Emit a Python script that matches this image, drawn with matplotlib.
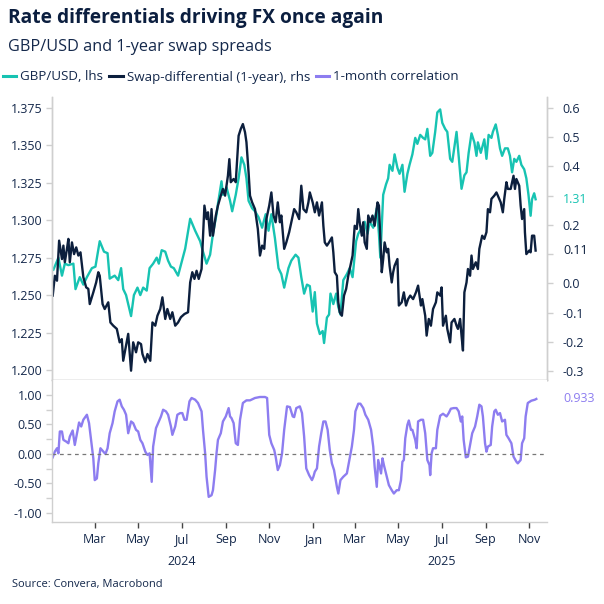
import matplotlib
matplotlib.use("Agg")
import matplotlib.pyplot as plt
import matplotlib.dates as mdates
import matplotlib.transforms as mtransforms
from matplotlib.lines import Line2D
import pandas as pd
import numpy as np

plt.rcParams['font.family'] = ['Open Sans', 'DejaVu Sans']
plt.rcParams['axes.unicode_minus'] = False

# ---------------- data (days since 2024-01-01) ----------------
gbp_day = [2, 9, 14, 18, 23, 30, 33, 39, 44, 49,
           56, 61, 67, 73, 78, 81, 88, 93, 97, 100,
           104, 107, 111, 115, 120, 124, 128, 133, 137, 142,
           147, 150, 154, 159, 163, 167, 171, 177, 182, 187,
           194, 201, 208, 212, 217, 222, 226, 231, 233, 238,
           240, 245, 250, 253, 258, 262, 266, 270, 273, 276,
           281, 285, 290, 295, 300, 304, 308, 313, 318, 322,
           326, 332, 336, 342, 346, 350, 354, 358, 362, 366,
           369, 372, 376, 380, 382, 386, 389, 391, 395, 399,
           402, 405, 409, 414, 418, 422, 427, 430, 435, 439,
           443, 446, 451, 456, 459, 461, 465, 469, 472, 474,
           478, 481, 485, 488, 492, 495, 499, 502, 506, 510,
           513, 517, 521, 524, 527, 531, 534, 538, 541, 545,
           548, 552, 555, 559, 562, 566, 568, 572, 575, 579,
           582, 585, 589, 593, 596, 598, 602, 607, 610, 613,
           617, 619, 623, 626, 629, 632, 636, 640, 643, 646,
           649, 652, 656, 659, 663, 666, 669, 672, 674, 677,
           679]
gbp_usd = [1.267, 1.275, 1.263, 1.271, 1.270, 1.271, 1.254, 1.262, 1.257, 1.262,
           1.268, 1.269, 1.286, 1.279, 1.278, 1.261, 1.263, 1.260, 1.268, 1.254,
           1.250, 1.244, 1.236, 1.250, 1.255, 1.250, 1.255, 1.253, 1.268, 1.271,
           1.275, 1.271, 1.280, 1.279, 1.273, 1.269, 1.268, 1.263, 1.272, 1.281,
           1.301, 1.293, 1.286, 1.279, 1.271, 1.277, 1.291, 1.304, 1.311, 1.326,
           1.317, 1.322, 1.313, 1.306, 1.317, 1.328, 1.342, 1.337, 1.328, 1.313,
           1.308, 1.306, 1.302, 1.295, 1.304, 1.293, 1.304, 1.288, 1.268, 1.264,
           1.255, 1.268, 1.273, 1.277, 1.275, 1.262, 1.251, 1.257, 1.256, 1.239,
           1.252, 1.231, 1.224, 1.226, 1.218, 1.235, 1.237, 1.251, 1.244, 1.251,
           1.242, 1.237, 1.260, 1.264, 1.268, 1.262, 1.286, 1.291, 1.295, 1.299,
           1.291, 1.299, 1.295, 1.308, 1.291, 1.275, 1.317, 1.324, 1.328, 1.337,
           1.333, 1.344, 1.335, 1.331, 1.337, 1.319, 1.331, 1.337, 1.344, 1.355,
           1.351, 1.357, 1.355, 1.354, 1.361, 1.343, 1.345, 1.359, 1.372, 1.374,
           1.365, 1.361, 1.359, 1.341, 1.339, 1.352, 1.359, 1.337, 1.321, 1.330,
           1.332, 1.345, 1.358, 1.352, 1.343, 1.352, 1.345, 1.354, 1.341, 1.357,
           1.355, 1.359, 1.364, 1.357, 1.348, 1.343, 1.348, 1.348, 1.343, 1.332,
           1.341, 1.339, 1.343, 1.337, 1.334, 1.328, 1.317, 1.303, 1.314, 1.318,
           1.314]

swap_day = [1, 4, 7, 10, 14, 16, 18, 21, 23, 25,
            28, 31, 34, 37, 40, 44, 48, 51, 53, 58,
            62, 65, 67, 71, 74, 79, 82, 86, 91, 95,
            98, 100, 104, 107, 111, 114, 118, 121, 125, 127,
            131, 134, 138, 141, 145, 148, 152, 155, 159, 162,
            166, 169, 173, 177, 181, 186, 191, 194, 197, 200,
            203, 206, 210, 214, 217, 219, 222, 224, 226, 230,
            233, 237, 240, 243, 247, 249, 251, 255, 258, 262,
            265, 268, 271, 273, 276, 278, 281, 285, 289, 292,
            295, 298, 301, 305, 308, 311, 314, 317, 320, 322,
            326, 329, 333, 336, 340, 343, 347, 350, 353, 357,
            360, 362, 366, 369, 372, 375, 379, 381, 383, 386,
            389, 393, 395, 397, 400, 402, 404, 407, 410, 413,
            416, 419, 422, 425, 428, 430, 432, 435, 437, 439,
            442, 444, 447, 450, 453, 457, 459, 461, 463, 465,
            467, 470, 472, 474, 477, 479, 481, 485, 487, 491,
            494, 497, 500, 503, 507, 511, 514, 518, 520, 524,
            526, 529, 532, 535, 539, 541, 545, 547, 549, 553,
            555, 559, 561, 565, 568, 570, 573, 575, 577, 579,
            582, 584, 587, 589, 591, 595, 598, 600, 602, 604,
            607, 610, 612, 615, 617, 621, 624, 626, 630, 633,
            635, 638, 640, 644, 648, 650, 652, 656, 658, 660,
            663, 664, 666, 670, 672, 674, 677, 679]
swap_1y = [-0.042, 0.026, 0.009, 0.146, 0.083, 0.129, 0.072, 0.118, 0.152, 0.072,
           0.140, 0.100, 0.123, 0.095, 0.106, 0.021, -0.014, -0.019, -0.071, -0.031,
           0.003, 0.038, 0.026, -0.071, -0.088, -0.065, -0.134, -0.145, -0.156, -0.202,
           -0.191, -0.265, -0.213, -0.173, -0.299, -0.202, -0.236, -0.202, -0.208, -0.242,
           -0.270, -0.242, -0.265, -0.134, -0.145, -0.111, -0.088, -0.048, -0.122, -0.088,
           -0.122, -0.099, -0.145, -0.134, -0.116, -0.105, -0.099, 0.003, 0.038, 0.015,
           0.043, 0.015, 0.049, 0.266, 0.220, 0.243, 0.163, 0.254, 0.163, 0.232,
           0.266, 0.300, 0.323, 0.300, 0.368, 0.425, 0.346, 0.357, 0.346, 0.505,
           0.528, 0.545, 0.517, 0.483, 0.380, 0.300, 0.277, 0.254, 0.186, 0.095,
           0.129, 0.118, 0.220, 0.266, 0.311, 0.232, 0.209, 0.277, 0.209, 0.232,
           0.118, 0.140, 0.175, 0.209, 0.254, 0.243, 0.220, 0.334, 0.254, 0.243,
           0.277, 0.311, 0.277, 0.243, 0.277, 0.232, 0.277, 0.197, 0.140, 0.129,
           0.140, 0.157, 0.106, 0.038, 0.026, -0.065, -0.099, -0.111, -0.042, -0.019,
           0.026, 0.060, 0.095, 0.197, 0.186, 0.254, 0.209, 0.163, 0.209, 0.140,
           0.118, 0.232, 0.209, 0.232, 0.197, 0.277, 0.266, 0.152, 0.038, 0.083,
           0.140, 0.106, 0.118, 0.060, 0.003, 0.038, 0.060, 0.083, -0.076, -0.065,
           -0.031, -0.076, -0.054, -0.042, -0.054, -0.031, -0.008, -0.076, -0.054, -0.111,
           -0.179, -0.122, -0.145, -0.088, -0.065, -0.031, -0.042, -0.014, -0.145, -0.111,
           -0.156, -0.202, -0.134, -0.122, -0.145, -0.156, -0.122, -0.179, -0.230, -0.031,
           0.003, 0.049, 0.026, 0.095, 0.049, 0.072, 0.049, 0.118, 0.140, 0.163,
           0.152, 0.175, 0.254, 0.243, 0.289, 0.300, 0.311, 0.300, 0.277, 0.243,
           0.289, 0.346, 0.323, 0.323, 0.368, 0.323, 0.357, 0.334, 0.266, 0.220,
           0.254, 0.175, 0.100, 0.112, 0.106, 0.163, 0.163, 0.112]

corr_day = [1, 4, 7, 9, 11, 14, 16, 20, 23, 25,
            29, 32, 36, 38, 41, 44, 49, 52, 56, 58,
            60, 63, 65, 68, 72, 75, 78, 81, 85, 88,
            92, 95, 98, 101, 104, 107, 111, 114, 118, 121,
            124, 127, 131, 134, 137, 140, 142, 146, 149, 153,
            156, 160, 163, 167, 169, 173, 176, 180, 183, 186,
            189, 193, 196, 201, 205, 210, 212, 215, 217, 220,
            224, 226, 229, 231, 233, 237, 240, 244, 248, 250,
            252, 255, 258, 261, 264, 268, 273, 278, 285, 292,
            299, 302, 305, 308, 312, 314, 317, 320, 323, 326,
            330, 334, 338, 340, 343, 348, 351, 354, 357, 361,
            365, 367, 369, 372, 375, 378, 381, 384, 387, 390,
            393, 396, 400, 402, 405, 409, 414, 417, 421, 424,
            426, 430, 433, 437, 440, 444, 448, 451, 453, 456,
            458, 460, 462, 464, 466, 470, 473, 477, 480, 484,
            487, 490, 492, 494, 496, 499, 501, 504, 506, 510,
            512, 514, 518, 521, 524, 527, 530, 531, 533, 535,
            539, 541, 545, 549, 554, 557, 560, 564, 568, 571,
            574, 576, 578, 581, 584, 587, 590, 594, 597, 600,
            603, 605, 608, 610, 612, 616, 618, 621, 623, 626,
            629, 632, 636, 638, 641, 645, 648, 652, 654, 658,
            660, 663, 665, 668, 673, 678, 680]
corr_1m = [-0.057, 0.040, 0.097, 0.011, 0.381, 0.381, 0.239, 0.210, 0.182, 0.295,
           0.398, 0.153, 0.409, 0.534, 0.466, 0.580, 0.665, 0.523, 0.125, -0.074,
           -0.443, -0.415, -0.159, 0.097, 0.040, 0.000, 0.097, 0.352, 0.523, 0.722,
           0.892, 0.920, 0.807, 0.750, 0.665, 0.352, 0.551, 0.523, 0.409, 0.381,
           0.239, 0.182, 0.040, -0.017, 0.011, -0.472, 0.125, 0.438, 0.523, 0.636,
           0.750, 0.722, 0.665, 0.466, 0.324, 0.466, 0.665, 0.693, 0.693, 0.580,
           0.580, 0.892, 0.949, 0.920, 0.864, 0.722, 0.409, 0.011, -0.386, -0.727,
           -0.699, -0.614, -0.273, 0.011, 0.239, 0.352, 0.551, 0.636, 0.778, 0.636,
           0.608, 0.523, 0.182, 0.153, 0.580, 0.864, 0.909, 0.909, 0.949, 0.966,
           0.966, 0.949, 0.324, 0.182, 0.068, -0.045, -0.273, -0.188, 0.011, 0.409,
           0.807, 0.795, 0.636, 0.625, 0.778, 0.807, 0.693, 0.295, -0.244, -0.358,
           -0.443, -0.386, -0.301, -0.244, 0.125, 0.352, 0.551, 0.551, 0.409, 0.068,
           -0.159, -0.273, -0.557, -0.670, -0.443, -0.386, -0.330, -0.131, 0.125, 0.409,
           0.722, 0.852, 0.852, 0.778, 0.665, 0.580, 0.409, 0.125, -0.216, -0.557,
           -0.102, -0.216, -0.330, -0.074, -0.188, -0.386, -0.528, -0.614, -0.670, -0.614,
           -0.614, -0.443, -0.131, -0.102, 0.267, 0.494, 0.568, 0.409, 0.409, 0.239,
           0.097, 0.551, 0.580, 0.580, 0.352, -0.102, -0.188, -0.358, 0.011, 0.097,
           0.097, 0.409, 0.648, 0.682, 0.636, 0.693, 0.767, 0.778, 0.778, 0.722,
           0.551, 0.636, 0.239, -0.057, -0.045, 0.153, 0.352, 0.466, 0.636, 0.835,
           0.807, 0.636, 0.182, 0.040, 0.125, 0.153, 0.466, 0.722, 0.750, 0.665,
           0.693, 0.551, 0.580, 0.324, 0.267, 0.182, -0.045, -0.131, -0.159, -0.102,
           0.182, 0.267, 0.636, 0.864, 0.903, 0.920, 0.933]

left_ticks = [1.200, 1.225, 1.250, 1.275, 1.300, 1.325, 1.350, 1.375]
right_ticks = [-0.3, -0.2, -0.1, 0.0, 0.1, 0.2, 0.3, 0.4, 0.5, 0.6]
right_labels = ['-0.3', '-0.2', '-0.1', '0.0', '', '0.2', '', '0.4', '0.5', '0.6']
corr_major = [-1.0, -0.5, 0.0, 0.5, 1.0]
corr_minor = [-0.75, -0.25, 0.25, 0.75]

title = "Rate differentials driving FX once again"
subtitle = "GBP/USD and 1-year swap spreads"
legend_labels = ["GBP/USD, lhs", "Swap-differential (1-year), rhs", "1-month correlation"]
source = "Source: Convera, Macrobond"

assert len(gbp_day) == len(gbp_usd)
assert len(swap_day) == len(swap_1y)
assert len(corr_day) == len(corr_1m)

base = pd.Timestamp("2024-01-01")
to_dates = lambda d: base + pd.to_timedelta(np.array(d), unit="D")
gbp_dates = to_dates(gbp_day)
swap_dates = to_dates(swap_day)
corr_dates = to_dates(corr_day)

TEAL = "#17c3b2"
NAVY = "#0c1f3d"
PURPLE = "#8d7df0"
TXT = "#14284b"
SPINE = "#cfcfcf"
FS = 9

W = H = 604
fig = plt.figure(figsize=(6.04, 6.04), dpi=100)

def rect(x0, y0, x1, y1):
    return [x0 / W, 1 - y1 / H, (x1 - x0) / W, (y1 - y0) / H]

ax = fig.add_axes(rect(52, 97, 547, 380))
ax2 = ax.twinx()
axc = fig.add_axes(rect(52, 380, 547, 522), sharex=ax)

xmin = base
xmax = base + pd.Timedelta(days=695)

ax.plot(gbp_dates, gbp_usd, color=TEAL, lw=1.7, solid_joinstyle='round')
ax2.plot(swap_dates, swap_1y, color=NAVY, lw=1.7, solid_joinstyle='round')
axc.plot(corr_dates, corr_1m, color=PURPLE, lw=1.7, solid_joinstyle='round')
axc.axhline(0, color="#777777", lw=0.9, ls=(0, (3, 3)))

ax.set_xlim(xmin, xmax)
ax.set_ylim(1.1933, 1.3823)
ax2.set_ylim(-0.3309, 0.6376)
axc.set_ylim(-1.153, 1.254)

ax.set_yticks(left_ticks)
ax.set_yticklabels([f"{v:.3f}" for v in left_ticks])
ax2.set_yticks(right_ticks)
ax2.set_yticklabels(right_labels)
axc.set_yticks(corr_major)
axc.set_yticklabels([f"{v:.2f}" for v in corr_major])
axc.set_yticks(corr_minor, minor=True)

for a in (ax, ax2, axc):
    for s in a.spines.values():
        s.set_color(SPINE)
        s.set_linewidth(1.0)
    a.tick_params(axis='y', colors=SPINE, labelcolor=TXT, labelsize=FS, length=4, width=1)
    a.tick_params(axis='y', which='minor', colors=SPINE, length=4, width=1)
ax.spines['top'].set_visible(False)
ax2.spines['top'].set_visible(False)
axc.spines['top'].set_visible(False)
axc.spines['right'].set_visible(False)
ax.tick_params(axis='y', pad=3)
ax2.tick_params(axis='y', pad=7)
axc.tick_params(axis='y', pad=3)

# x axis
month_ticks = pd.date_range("2024-03-01", "2025-11-01", freq="2MS")
axc.set_xticks(month_ticks)
axc.xaxis.set_major_formatter(mdates.DateFormatter("%b"))
axc.tick_params(axis='x', colors="#444444", labelcolor=TXT, labelsize=FS, length=4, width=1, pad=4)
ax.tick_params(axis='x', bottom=False, labelbottom=False)
ax2.tick_params(axis='x', bottom=False, labelbottom=False)

trans = mtransforms.blended_transform_factory(axc.transData, axc.transAxes)
for yr in ["2024", "2025"]:
    axc.text(pd.Timestamp(f"{yr}-07-01"), -0.28, yr, transform=trans, ha='center',
             va='center', fontsize=FS, color=TXT)

# end-value labels
lab_x = 563 / W
t_r1 = mtransforms.blended_transform_factory(fig.transFigure, ax.transData)
fig.text(lab_x, gbp_usd[-1], f"{gbp_usd[-1]:.2f}", transform=t_r1, color=TEAL, fontsize=FS, va='center', ha='left')
t_r2 = mtransforms.blended_transform_factory(fig.transFigure, ax2.transData)
fig.text(lab_x, swap_1y[-1], f"{swap_1y[-1]:.2f}", transform=t_r2, color=NAVY, fontsize=FS, va='center', ha='left')
t_rc = mtransforms.blended_transform_factory(fig.transFigure, axc.transData)
fig.text(lab_x, corr_1m[-1], f"{corr_1m[-1]:.3f}", transform=t_rc, color=PURPLE, fontsize=FS, va='center', ha='left')

# titles
fig.text(8 / W, 1 - 18 / H, title, fontsize=13.8, weight='bold', color="#0b1e3f", va='center', ha='left')
fig.text(8 / W, 1 - 47 / H, subtitle, fontsize=11.7, color=TXT, va='center', ha='left')

handles = [Line2D([], [], color=c, lw=2.2) for c in (TEAL, NAVY, PURPLE)]
fig.legend(handles, legend_labels, loc='center left', bbox_to_anchor=(3 / W, 1 - 77 / H),
           ncol=3, frameon=False, fontsize=9.6, handlelength=1.0, handletextpad=0.3,
           columnspacing=0.45, labelcolor=TXT, borderaxespad=0, borderpad=0)

fig.text(12 / W, 1 - 585 / H, source, fontsize=8, color=TXT, va='center', ha='left')

fig.savefig("out.png", dpi=100)
